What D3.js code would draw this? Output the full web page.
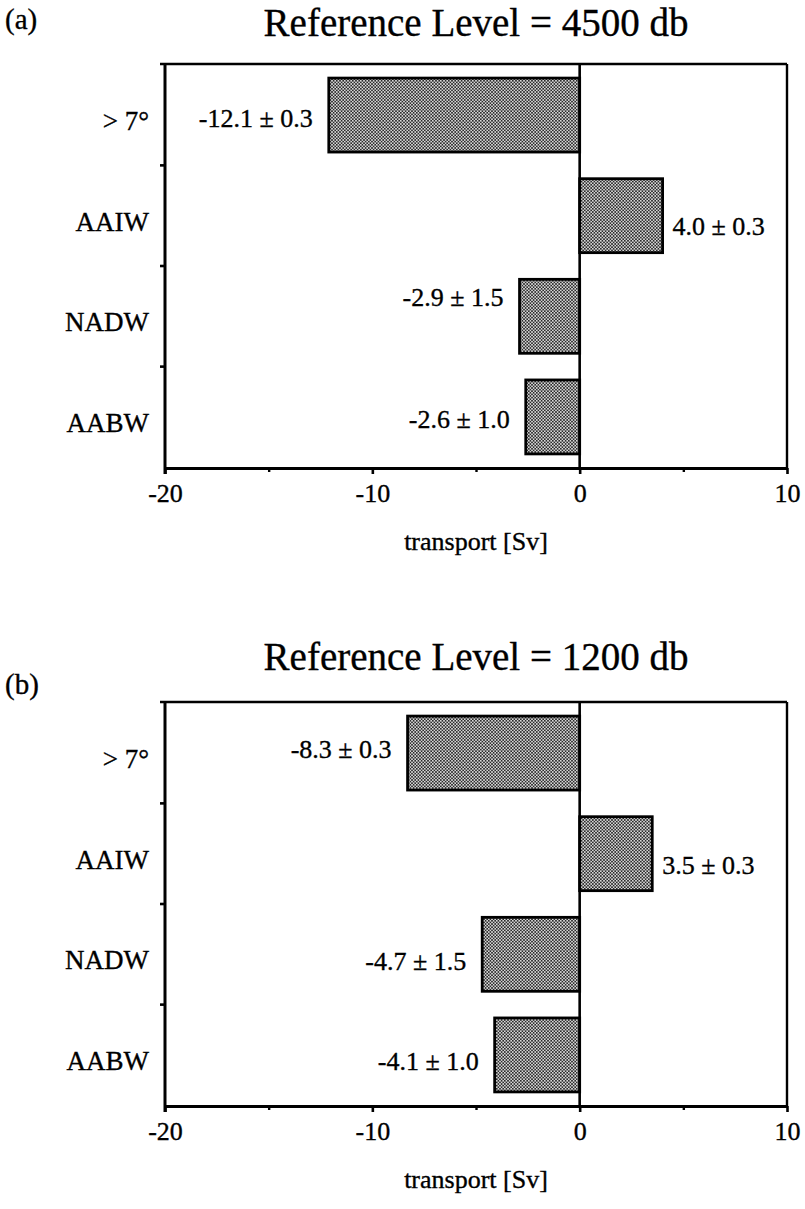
<!DOCTYPE html>
<html>
<head>
<meta charset="utf-8">
<script src="https://cdn.jsdelivr.net/npm/d3@7"></script>
<style>
  html, body { margin: 0; padding: 0; background: #fff; }
  svg { display: block; }
  text { font-family: "Liberation Serif", "Times New Roman", serif; fill: #000; stroke: #000; stroke-width: 0.35px; }
</style>
</head>
<body>
<svg id="chart" width="805" height="1209"></svg>
<script>
// ---- data ----
const categories = ["> 7°", "AAIW", "NADW", "AABW"];
const transport4500 = [-12.1, 4.0, -2.9, -2.6];
const error4500 = [0.3, 0.3, 1.5, 1.0];
const transport1200 = [-8.3, 3.5, -4.7, -4.1];
const error1200 = [0.3, 0.3, 1.5, 1.0];
const titles = ["Reference Level = 4500 db", "Reference Level = 1200 db"];
const panelLetters = ["(a)", "(b)"];
const xTickValues = [-20, -10, 0, 10];
const xMinorTickValues = [-15, -5, 5];
const xDomain = [-20, 10];
const xLabel = "transport [Sv]";

// ---- layout (not data) ----
const panels = [
  { top: 64, values: transport4500, errors: error4500, title: titles[0], letter: panelLetters[0],
    letterY: 29, titleY: 36, labelDy: [3, 11, -19, 3] },
  { top: 702, values: transport1200, errors: error1200, title: titles[1], letter: panelLetters[1],
    letterY: 694, titleY: 670, labelDy: [-4, 12, 7, 7] }
];
const plotLeft = 165, plotRight = 787, plotH = 404;

const svg = d3.select("#chart");
const defs = svg.append("defs");
const pat = defs.append("pattern").attr("id", "stipple")
  .attr("width", 3.2).attr("height", 3.2).attr("patternUnits", "userSpaceOnUse");
pat.append("rect").attr("width", 3.2).attr("height", 3.2).attr("fill", "#d8d8d8");
pat.append("rect").attr("x", 0).attr("y", 0).attr("width", 1.6).attr("height", 1.6).attr("fill", "#2a2a2a");
pat.append("rect").attr("x", 1.6).attr("y", 1.6).attr("width", 1.6).attr("height", 1.6).attr("fill", "#2a2a2a");

const x = d3.scaleLinear().domain(xDomain).range([plotLeft, plotRight]);

panels.forEach(p => {
  const top = p.top, bottom = p.top + plotH;
  const y = d3.scaleBand().domain(categories).range([top, bottom])
    .paddingInner(0.265).paddingOuter(0.14);
  const g = svg.append("g");

  // panel letter and title
  g.append("text").attr("x", 5).attr("y", p.letterY).attr("font-size", 29).text(p.letter);
  g.append("text").attr("x", (plotLeft + plotRight) / 2).attr("y", p.titleY)
    .attr("text-anchor", "middle").attr("font-size", 39).text(p.title);

  // bars
  const rows = categories.map((c, i) => ({ c, v: p.values[i], e: p.errors[i], dy: p.labelDy[i] }));
  g.selectAll("rect.bar").data(rows).join("rect").attr("class", "bar")
    .attr("x", d => x(Math.min(0, d.v)))
    .attr("width", d => Math.abs(x(d.v) - x(0)))
    .attr("y", d => y(d.c))
    .attr("height", y.bandwidth())
    .attr("fill", "url(#stipple)")
    .attr("stroke", "#000").attr("stroke-width", 2.8);

  // value labels
  g.selectAll("text.val").data(rows).join("text").attr("class", "val")
    .attr("x", d => d.v < 0 ? x(d.v) - 16 : x(d.v) + 10)
    .attr("y", d => y(d.c) + y.bandwidth() / 2 + d.dy + 8.5)
    .attr("text-anchor", d => d.v < 0 ? "end" : "start")
    .attr("font-size", 26)
    .text(d => `${d.v.toFixed(1)} ± ${d.e.toFixed(1)}`);

  // frame: top and right lines
  g.append("line").attr("x1", plotLeft - 5).attr("x2", plotRight).attr("y1", top).attr("y2", top)
    .attr("stroke", "#000").attr("stroke-width", 2.4);
  g.append("line").attr("x1", plotRight).attr("x2", plotRight).attr("y1", top).attr("y2", bottom)
    .attr("stroke", "#000").attr("stroke-width", 2.4);

  // zero line
  g.append("line").attr("x1", x(0)).attr("x2", x(0)).attr("y1", top).attr("y2", bottom)
    .attr("stroke", "#000").attr("stroke-width", 2.6);

  // x axis
  const xAxis = d3.axisBottom(x).tickValues(xTickValues).tickSize(6).tickSizeOuter(0).tickPadding(10)
    .tickFormat(d => String(d));
  const ax = g.append("g").attr("transform", `translate(0,${bottom})`).call(xAxis);
  ax.select(".domain").attr("stroke-width", 2.8);
  ax.selectAll(".tick line").attr("stroke-width", 2.6);
  ax.selectAll(".tick text").attr("font-family", "Liberation Serif").attr("font-size", 26)
    .attr("fill", "#000");
  const axMinor = d3.axisBottom(x).tickValues(xMinorTickValues).tickSize(4).tickSizeOuter(0)
    .tickFormat("");
  const am = g.append("g").attr("transform", `translate(0,${bottom})`).call(axMinor);
  am.select(".domain").remove();
  am.selectAll(".tick line").attr("stroke-width", 2.4);

  // x label
  g.append("text").attr("x", (plotLeft + plotRight) / 2).attr("y", bottom + 82)
    .attr("text-anchor", "middle").attr("font-size", 26).text(xLabel);

  // y axis: labels at band centres, ticks at band boundaries
  const yAxis = d3.axisLeft(y).tickSize(0).tickPadding(16);
  const ay = g.append("g").attr("transform", `translate(${plotLeft},0)`).call(yAxis);
  ay.select(".domain").remove();
  ay.selectAll(".tick text").attr("font-family", "Liberation Serif").attr("font-size", 27)
    .attr("fill", "#000").attr("dy", "0.55em");
  g.append("line").attr("x1", plotLeft).attr("x2", plotLeft).attr("y1", top).attr("y2", bottom + 6)
    .attr("stroke", "#000").attr("stroke-width", 3);
  const bounds = categories.slice(1).map(c => y(c) - y.step() * y.paddingInner() / 2);
  g.selectAll("line.ytick").data(bounds).join("line").attr("class", "ytick")
    .attr("x1", plotLeft - 5).attr("x2", plotLeft).attr("y1", d => d).attr("y2", d => d)
    .attr("stroke", "#000").attr("stroke-width", 2.6);
});
</script>
</body>
</html>
